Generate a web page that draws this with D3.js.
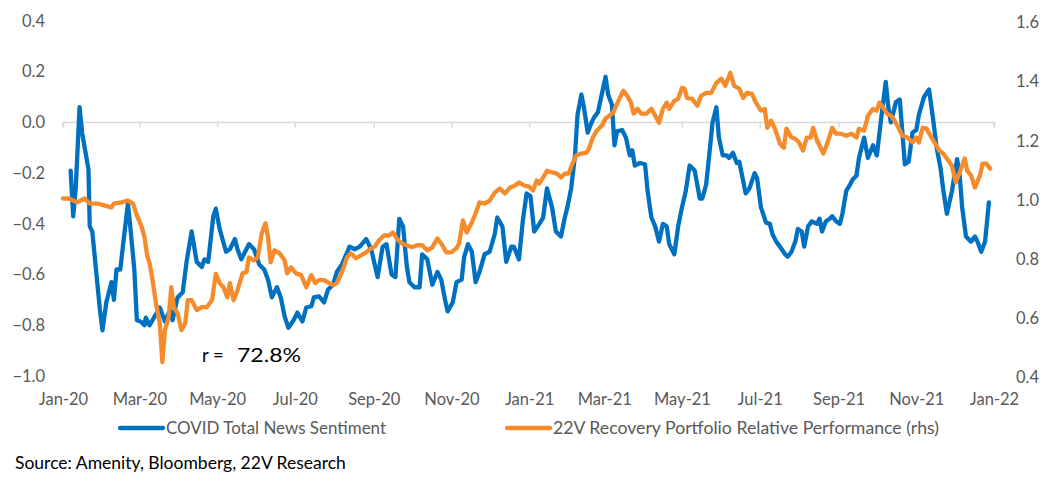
<!DOCTYPE html>
<html><head><meta charset="utf-8">
<script src="https://cdn.jsdelivr.net/npm/d3@7"></script>
<style>
html,body{margin:0;padding:0;background:#fff;}
svg text{font-family:Lato,"Open Sans",sans-serif;}
</style></head>
<body><svg id="c" width="1048" height="478"></svg>
<script>
const leftTicks = [-1.0,-0.8,-0.6,-0.4,-0.2,0.0,0.2,0.4];
const rightTicks = [0.4,0.6,0.8,1.0,1.2,1.4,1.6];
const monthTicks = ["2020-01-01","2020-03-01","2020-05-01","2020-07-01","2020-09-01","2020-11-01","2021-01-01","2021-03-01","2021-05-01","2021-07-01","2021-09-01","2021-11-01","2022-01-01"];
const seriesNames = ["COVID Total News Sentiment","22V Recovery Portfolio Relative Performance (rhs)"];
const correlationLabel = ["r =", "72.8%"];
const sourceLabel = "Source: Amenity, Bloomberg, 22V Research";

const sentimentDates = ["2020-01-07","2020-01-09","2020-01-11","2020-01-14","2020-01-16","2020-01-21","2020-01-22","2020-01-24","2020-01-30","2020-02-01","2020-02-04","2020-02-08","2020-02-10","2020-02-12","2020-02-15","2020-02-17","2020-02-21","2020-02-23","2020-02-26","2020-02-28","2020-03-02","2020-03-05","2020-03-06","2020-03-09","2020-03-13","2020-03-17","2020-03-21","2020-03-25","2020-03-27","2020-03-31","2020-04-04","2020-04-07","2020-04-11","2020-04-15","2020-04-19","2020-04-21","2020-04-24","2020-04-28","2020-04-30","2020-05-03","2020-05-08","2020-05-11","2020-05-15","2020-05-17","2020-05-20","2020-05-23","2020-05-26","2020-05-30","2020-06-03","2020-06-07","2020-06-10","2020-06-13","2020-06-17","2020-06-20","2020-06-23","2020-06-26","2020-06-30","2020-07-03","2020-07-07","2020-07-10","2020-07-14","2020-07-16","2020-07-20","2020-07-24","2020-07-27","2020-07-31","2020-08-03","2020-08-07","2020-08-13","2020-08-17","2020-08-21","2020-08-26","2020-08-30","2020-09-04","2020-09-08","2020-09-11","2020-09-15","2020-09-18","2020-09-21","2020-09-24","2020-09-27","2020-09-29","2020-10-03","2020-10-07","2020-10-09","2020-10-13","2020-10-17","2020-10-21","2020-10-24","2020-10-27","2020-10-29","2020-11-02","2020-11-05","2020-11-09","2020-11-11","2020-11-14","2020-11-17","2020-11-20","2020-11-23","2020-11-27","2020-12-01","2020-12-05","2020-12-07","2020-12-11","2020-12-14","2020-12-18","2020-12-20","2020-12-24","2020-12-27","2020-12-30","2021-01-02","2021-01-05","2021-01-09","2021-01-12","2021-01-15","2021-01-19","2021-01-22","2021-01-26","2021-01-29","2021-01-31","2021-02-03","2021-02-06","2021-02-08","2021-02-11","2021-02-13","2021-02-16","2021-02-19","2021-02-21","2021-02-24","2021-02-27","2021-03-02","2021-03-04","2021-03-07","2021-03-09","2021-03-11","2021-03-15","2021-03-18","2021-03-21","2021-03-23","2021-03-25","2021-03-29","2021-04-02","2021-04-04","2021-04-07","2021-04-10","2021-04-13","2021-04-16","2021-04-19","2021-04-21","2021-04-25","2021-04-28","2021-05-01","2021-05-04","2021-05-07","2021-05-11","2021-05-15","2021-05-17","2021-05-20","2021-05-23","2021-05-25","2021-05-28","2021-05-30","2021-06-02","2021-06-05","2021-06-07","2021-06-10","2021-06-13","2021-06-15","2021-06-17","2021-06-20","2021-06-23","2021-06-27","2021-06-29","2021-07-02","2021-07-06","2021-07-09","2021-07-11","2021-07-14","2021-07-17","2021-07-21","2021-07-23","2021-07-26","2021-07-29","2021-07-31","2021-08-03","2021-08-05","2021-08-08","2021-08-11","2021-08-15","2021-08-17","2021-08-19","2021-08-22","2021-08-25","2021-08-27","2021-08-30","2021-09-02","2021-09-04","2021-09-07","2021-09-10","2021-09-12","2021-09-15","2021-09-17","2021-09-21","2021-09-24","2021-09-28","2021-10-01","2021-10-05","2021-10-08","2021-10-10","2021-10-12","2021-10-16","2021-10-19","2021-10-21","2021-10-23","2021-10-26","2021-10-29","2021-11-01","2021-11-03","2021-11-07","2021-11-11","2021-11-14","2021-11-17","2021-11-20","2021-11-22","2021-11-25","2021-11-29","2021-12-03","2021-12-05","2021-12-07","2021-12-10","2021-12-14","2021-12-17","2021-12-19","2021-12-22","2021-12-25","2021-12-28"];
const sentimentValues = [-0.19,-0.37,-0.26,0.06,-0.04,-0.185,-0.41,-0.43,-0.74,-0.82,-0.71,-0.63,-0.70,-0.58,-0.58,-0.49,-0.32,-0.42,-0.58,-0.78,-0.785,-0.80,-0.77,-0.80,-0.765,-0.73,-0.785,-0.74,-0.78,-0.69,-0.67,-0.55,-0.43,-0.55,-0.57,-0.54,-0.55,-0.37,-0.34,-0.42,-0.51,-0.50,-0.46,-0.50,-0.54,-0.51,-0.48,-0.50,-0.56,-0.58,-0.62,-0.69,-0.65,-0.69,-0.765,-0.81,-0.78,-0.75,-0.785,-0.73,-0.725,-0.69,-0.686,-0.71,-0.66,-0.64,-0.59,-0.56,-0.49,-0.50,-0.49,-0.46,-0.50,-0.61,-0.49,-0.48,-0.60,-0.61,-0.38,-0.41,-0.57,-0.63,-0.65,-0.65,-0.52,-0.54,-0.64,-0.59,-0.62,-0.70,-0.745,-0.71,-0.63,-0.62,-0.53,-0.48,-0.51,-0.63,-0.59,-0.52,-0.51,-0.44,-0.375,-0.41,-0.55,-0.49,-0.49,-0.54,-0.39,-0.28,-0.29,-0.43,-0.40,-0.375,-0.26,-0.335,-0.43,-0.45,-0.375,-0.335,-0.26,-0.13,0.03,0.11,0.06,-0.04,0.00,0.02,0.04,0.11,0.18,0.11,0.07,-0.09,-0.035,-0.03,-0.06,-0.13,-0.11,-0.17,-0.16,-0.165,-0.27,-0.375,-0.41,-0.47,-0.40,-0.41,-0.48,-0.52,-0.41,-0.335,-0.27,-0.17,-0.19,-0.30,-0.30,-0.245,-0.10,0.00,0.06,-0.06,-0.13,-0.13,-0.14,-0.12,-0.16,-0.155,-0.205,-0.28,-0.26,-0.20,-0.22,-0.335,-0.395,-0.40,-0.44,-0.47,-0.49,-0.52,-0.53,-0.51,-0.47,-0.42,-0.43,-0.49,-0.41,-0.39,-0.40,-0.38,-0.43,-0.39,-0.38,-0.37,-0.39,-0.40,-0.36,-0.27,-0.245,-0.225,-0.21,-0.14,-0.06,-0.14,-0.09,-0.13,0.04,0.16,0.06,0.00,0.08,0.09,-0.035,-0.165,-0.155,-0.04,-0.03,0.03,0.10,0.13,0.02,-0.10,-0.18,-0.26,-0.36,-0.27,-0.145,-0.205,-0.335,-0.45,-0.47,-0.45,-0.47,-0.51,-0.47,-0.315];

const perfDates = ["2020-01-01","2020-01-06","2020-01-12","2020-01-18","2020-01-22","2020-01-28","2020-02-03","2020-02-08","2020-02-10","2020-02-16","2020-02-21","2020-02-25","2020-02-28","2020-03-03","2020-03-05","2020-03-07","2020-03-09","2020-03-11","2020-03-14","2020-03-17","2020-03-19","2020-03-21","2020-03-24","2020-03-26","2020-03-28","2020-03-31","2020-04-03","2020-04-06","2020-04-08","2020-04-11","2020-04-15","2020-04-19","2020-04-23","2020-04-27","2020-04-30","2020-05-03","2020-05-06","2020-05-09","2020-05-11","2020-05-14","2020-05-17","2020-05-21","2020-05-24","2020-05-26","2020-05-30","2020-06-02","2020-06-05","2020-06-08","2020-06-10","2020-06-12","2020-06-15","2020-06-19","2020-06-23","2020-06-25","2020-06-28","2020-07-02","2020-07-06","2020-07-10","2020-07-14","2020-07-17","2020-07-20","2020-07-24","2020-07-28","2020-07-31","2020-08-03","2020-08-07","2020-08-11","2020-08-14","2020-08-18","2020-08-22","2020-08-26","2020-08-30","2020-09-02","2020-09-05","2020-09-09","2020-09-13","2020-09-16","2020-09-19","2020-09-23","2020-09-27","2020-10-01","2020-10-05","2020-10-09","2020-10-13","2020-10-17","2020-10-21","2020-10-24","2020-10-28","2020-11-01","2020-11-05","2020-11-07","2020-11-10","2020-11-13","2020-11-17","2020-11-20","2020-11-23","2020-11-27","2020-12-01","2020-12-05","2020-12-09","2020-12-13","2020-12-17","2020-12-21","2020-12-24","2020-12-28","2021-01-01","2021-01-04","2021-01-07","2021-01-09","2021-01-13","2021-01-15","2021-01-19","2021-01-23","2021-01-26","2021-01-29","2021-02-01","2021-02-04","2021-02-07","2021-02-11","2021-02-15","2021-02-17","2021-02-20","2021-02-23","2021-02-27","2021-03-02","2021-03-05","2021-03-08","2021-03-11","2021-03-14","2021-03-16","2021-03-19","2021-03-22","2021-03-24","2021-03-27","2021-03-30","2021-04-03","2021-04-07","2021-04-10","2021-04-13","2021-04-16","2021-04-19","2021-04-21","2021-04-25","2021-04-28","2021-05-01","2021-05-03","2021-05-05","2021-05-09","2021-05-13","2021-05-16","2021-05-20","2021-05-24","2021-05-28","2021-06-01","2021-06-04","2021-06-08","2021-06-11","2021-06-15","2021-06-18","2021-06-21","2021-06-25","2021-06-28","2021-07-02","2021-07-05","2021-07-07","2021-07-10","2021-07-13","2021-07-17","2021-07-20","2021-07-22","2021-07-26","2021-07-29","2021-08-01","2021-08-04","2021-08-07","2021-08-10","2021-08-12","2021-08-15","2021-08-17","2021-08-20","2021-08-23","2021-08-27","2021-08-30","2021-09-03","2021-09-07","2021-09-11","2021-09-15","2021-09-17","2021-09-21","2021-09-24","2021-09-28","2021-10-01","2021-10-03","2021-10-05","2021-10-09","2021-10-12","2021-10-15","2021-10-18","2021-10-21","2021-10-25","2021-10-29","2021-11-01","2021-11-03","2021-11-06","2021-11-09","2021-11-13","2021-11-16","2021-11-19","2021-11-22","2021-11-25","2021-11-29","2021-12-02","2021-12-05","2021-12-09","2021-12-11","2021-12-14","2021-12-17","2021-12-21","2021-12-23","2021-12-26","2021-12-29"];
const perfValues = [1.00,1.00,0.987,1.00,0.983,0.983,0.976,0.970,0.983,0.987,0.993,0.983,0.943,0.902,0.869,0.808,0.781,0.734,0.646,0.579,0.447,0.555,0.599,0.700,0.633,0.612,0.555,0.579,0.656,0.656,0.623,0.633,0.633,0.656,0.745,0.714,0.700,0.666,0.714,0.656,0.690,0.747,0.751,0.801,0.791,0.801,0.882,0.916,0.869,0.784,0.825,0.815,0.791,0.747,0.767,0.747,0.741,0.700,0.741,0.714,0.724,0.724,0.714,0.707,0.714,0.751,0.801,0.815,0.798,0.808,0.818,0.832,0.838,0.858,0.875,0.875,0.885,0.865,0.848,0.842,0.835,0.842,0.842,0.825,0.835,0.865,0.848,0.818,0.818,0.832,0.848,0.926,0.885,0.919,0.950,0.987,0.983,0.993,1.020,1.034,1.017,1.037,1.044,1.054,1.044,1.040,1.027,1.061,1.051,1.078,1.094,1.088,1.084,1.071,1.084,1.084,1.118,1.145,1.152,1.155,1.169,1.206,1.229,1.246,1.270,1.280,1.290,1.320,1.347,1.364,1.347,1.324,1.287,1.303,1.287,1.287,1.303,1.280,1.256,1.303,1.324,1.303,1.330,1.337,1.374,1.371,1.340,1.337,1.314,1.347,1.357,1.357,1.391,1.405,1.381,1.425,1.381,1.371,1.340,1.357,1.354,1.324,1.297,1.303,1.239,1.263,1.236,1.185,1.172,1.236,1.206,1.202,1.189,1.162,1.206,1.206,1.239,1.196,1.179,1.152,1.185,1.239,1.219,1.219,1.212,1.219,1.206,1.236,1.229,1.280,1.303,1.297,1.324,1.314,1.287,1.280,1.263,1.239,1.212,1.206,1.189,1.206,1.189,1.239,1.236,1.206,1.185,1.162,1.152,1.135,1.111,1.054,1.088,1.135,1.094,1.078,1.037,1.078,1.118,1.118,1.101];

const parse = d3.timeParse("%Y-%m-%d");
const blue = "#0070C0", orange = "#F68B2C", grey = "#595959";
const svg = d3.select("#c");
svg.append("rect").attr("width",1048).attr("height",478).attr("fill","#fff");

const x = d3.scaleTime().domain([parse(monthTicks[0]), parse(monthTicks[monthTicks.length-1])]).range([63, 994]);
const yL = d3.scaleLinear().domain([-1.0, 0.4]).range([376, 21]);
const yR = d3.scaleLinear().domain([0.4, 1.6]).range([376, 21]);

// zero-crossing category axis
const zeroAxis = d3.axisBottom(x).tickValues(monthTicks.map(parse)).tickSize(5).tickFormat("");
const za = svg.append("g").attr("transform",`translate(0,${yL(0)})`).call(zeroAxis);
za.selectAll("path,line").attr("stroke","#d9d9d9").attr("stroke-width",1.5);
za.select(".domain").attr("d",`M${x.range()[0]},5V0H${x.range()[1]}V5`);

// bottom date labels
const bottomAxis = d3.axisBottom(x).tickValues(monthTicks.map(parse)).tickSize(0).tickFormat(d3.timeFormat("%b-%y"));
const ba = svg.append("g").attr("transform","translate(0,390)").call(bottomAxis);
ba.select(".domain").remove();
ba.selectAll("text").attr("fill",grey).attr("font-size",16.5).attr("font-family","Lato");

// left axis labels
const la = svg.append("g").attr("transform","translate(45,0)").call(d3.axisLeft(yL).tickValues(leftTicks).tickSize(0).tickPadding(0).tickFormat(d3.format(".1f")));
la.select(".domain").remove();
la.selectAll("text").attr("fill",grey).attr("font-size",16.5).attr("font-family","Lato");

// right axis labels
const ra = svg.append("g").attr("transform","translate(1016,1.5)").call(d3.axisRight(yR).tickValues(rightTicks).tickSize(0).tickPadding(0).tickFormat(d3.format(".1f")));
ra.select(".domain").remove();
ra.selectAll("text").attr("fill",grey).attr("font-size",16.5).attr("font-family","Lato");

const sentiment = sentimentDates.map((d,i)=>({date:parse(d), v:sentimentValues[i]}));
const perf = perfDates.map((d,i)=>({date:parse(d), v:perfValues[i]}));

svg.append("path").datum(sentiment)
  .attr("d", d3.line().x(d=>x(d.date)).y(d=>yL(d.v)))
  .attr("fill","none").attr("stroke",blue).attr("stroke-width",4.3).attr("stroke-linejoin","round").attr("stroke-linecap","round");
svg.append("path").datum(perf)
  .attr("d", d3.line().x(d=>x(d.date)).y(d=>yR(d.v)))
  .attr("fill","none").attr("stroke",orange).attr("stroke-width",4.3).attr("stroke-linejoin","round").attr("stroke-linecap","round");

// correlation label
svg.append("text").attr("x",202).attr("y",362).attr("font-size",18.5).attr("fill","#000").attr("font-family","Lato")
  .text(correlationLabel[0]);
svg.append("text").attr("x",237).attr("y",362).attr("font-size",18.5).attr("fill","#000").attr("font-family","Lato")
  .attr("textLength",64).attr("lengthAdjust","spacingAndGlyphs").text(correlationLabel[1]);

// legend
const legend = [{name:seriesNames[0], color:blue, x0:120, w:220},{name:seriesNames[1], color:orange, x0:507, w:386}];
const lg = svg.append("g");
legend.forEach(l=>{
  lg.append("line").attr("x1",l.x0).attr("x2",l.x0+43).attr("y1",428).attr("y2",428).attr("stroke",l.color).attr("stroke-width",4.3).attr("stroke-linecap","round");
  lg.append("text").attr("x",l.x0+46).attr("y",434).attr("font-size",17).attr("fill",grey).attr("font-family","Lato")
    .attr("textLength",l.w).attr("lengthAdjust","spacingAndGlyphs").text(l.name);
});

svg.append("text").attr("x",15).attr("y",469).attr("font-size",17.5).attr("fill","#000").attr("font-family","Lato").text(sourceLabel);
</script></body></html>
